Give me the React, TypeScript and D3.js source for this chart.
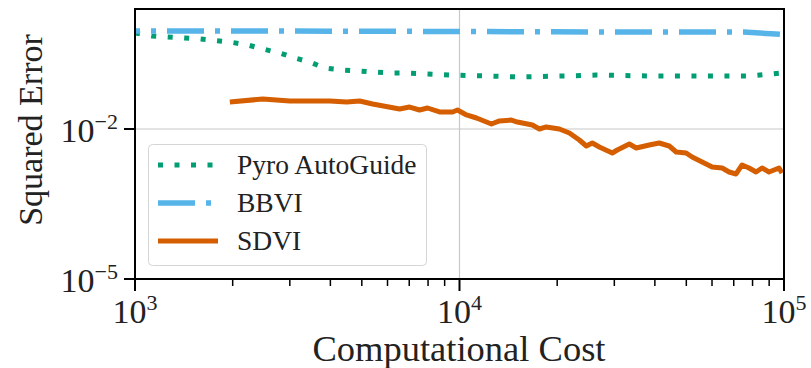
import React from 'react';
import * as d3 from 'd3';

const pyroX = [1000, 1128, 1425, 1585, 1958, 2228, 2477, 2793, 3105, 3455, 3843, 4335, 4822, 5397, 6092, 6871, 9510, 12100, 15070, 21330, 26400, 38400, 54700, 78000, 98600];
const pyroY = [0.832, 0.724, 0.661, 0.631, 0.55, 0.479, 0.398, 0.331, 0.263, 0.219, 0.166, 0.151, 0.145, 0.138, 0.132, 0.132, 0.12, 0.115, 0.11, 0.115, 0.12, 0.115, 0.115, 0.115, 0.132];

const bbviX = [1000, 3000, 10000, 30000, 60000, 75000, 100000];
const bbviY = [0.912, 0.912, 0.891, 0.871, 0.871, 0.871, 0.776];

const sdviX = [1960, 2476, 2999, 3981, 4491, 4924, 5399, 6537, 7018, 7532, 7971, 8679, 9517, 9859, 10508, 11280, 12545, 13280, 14454, 15083, 16771, 17629, 18523, 20310, 21806, 23400, 24594, 25660, 26970, 29570, 30640, 33360, 35050, 38420, 41250, 44290, 46540, 49950, 52110, 55940, 60050, 64470, 67750, 71180, 74270, 78040, 82000, 85560, 89930, 96520, 98580];
const sdviY = [0.0347, 0.0398, 0.0363, 0.0363, 0.0347, 0.0363, 0.0316, 0.0251, 0.0275, 0.024, 0.0263, 0.0219, 0.0219, 0.024, 0.0191, 0.0166, 0.0126, 0.0145, 0.0151, 0.0138, 0.012, 0.01, 0.011, 0.01, 0.00832, 0.00603, 0.00457, 0.00525, 0.00437, 0.00331, 0.0038, 0.00501, 0.00417, 0.00479, 0.00525, 0.00457, 0.00347, 0.00331, 0.00275, 0.00219, 0.00174, 0.00166, 0.00138, 0.00126, 0.00191, 0.00166, 0.00138, 0.00166, 0.00138, 0.00166, 0.00132];

const xMajor = [3, 4, 5];
const yMajor = [-2, -5];
const seriesNames = ['Pyro AutoGuide', 'BBVI', 'SDVI'];
const colors = ['#029E73', '#56B4E9', '#D55E00'];

const FONT = '"Liberation Serif", "Times New Roman", serif';

export default function App() {
  const L = 135, R = 784, T = 9, B = 279;
  const x = d3.scaleLog().domain([1e3, 1e5]).range([L, R]);
  const y = d3.scaleLog().domain([1e-5, Math.pow(10, 0.4)]).range([B, T]);
  const line = d3.line<[number, number]>().x(d => x(d[0])).y(d => y(d[1]));
  const zip = (a: number[], b: number[]) => a.map((v, i) => [v, b[i]] as [number, number]);

  const minor: number[] = [];
  for (const dec of [1e3, 1e4]) for (let k = 2; k <= 9; k++) minor.push(k * dec);

  const dashes = ['5 11.5', '37 11 5 11', undefined];
  const widths = [5, 5.5, 5];

  return (
    <svg width={811} height={368} style={{ position: 'absolute', left: 0, top: 0, background: '#fff' }} fontFamily={FONT}>
      <rect x={0} y={0} width={811} height={368} fill="#fff" />
      {yMajor.map(e => (
        <line key={'gy' + e} x1={L} x2={R} y1={y(Math.pow(10, e))} y2={y(Math.pow(10, e))} stroke="#c8c8c8" strokeWidth={1.2} />
      ))}
      {xMajor.map(e => (
        <line key={'gx' + e} x1={x(Math.pow(10, e))} x2={x(Math.pow(10, e))} y1={T} y2={B} stroke="#c8c8c8" strokeWidth={1.2} />
      ))}
      <defs>
        <clipPath id="clip"><rect x={L} y={T} width={R - L} height={B - T} /></clipPath>
      </defs>
      <g clipPath="url(#clip)">
        <path d={line(zip(pyroX, pyroY)) || ''} fill="none" stroke={colors[0]} strokeWidth={widths[0]} strokeDasharray={dashes[0]} />
        <path d={line(zip(bbviX, bbviY)) || ''} fill="none" stroke={colors[1]} strokeWidth={widths[1]} strokeDasharray={dashes[1]} strokeDashoffset={32} />
        <path d={line(zip(sdviX, sdviY)) || ''} fill="none" stroke={colors[2]} strokeWidth={widths[2]} strokeLinejoin="round" />
      </g>
      <rect x={148.5} y={144.5} width={278} height={121} rx={4} fill="#fff" fillOpacity={0.85} stroke="#d5d5d5" strokeWidth={1} />
      {seriesNames.map((n, i) => {
        const cy = [165, 203, 241][i];
        return (
          <g key={n}>
            <line x1={158} x2={218} y1={cy} y2={cy} stroke={colors[i]} strokeWidth={widths[i]} strokeDasharray={dashes[i]} />
            <text x={237} y={cy + 8.5} fontSize={27.5} fill="#222">{n}</text>
          </g>
        );
      })}
      <rect x={L} y={T} width={R - L} height={B - T} fill="none" stroke="#000" strokeWidth={2} />
      {minor.map(v => (
        <line key={'mx' + v} x1={x(v)} x2={x(v)} y1={B} y2={B + 7} stroke="#000" strokeWidth={1.5} />
      ))}
      {xMajor.map(e => (
        <g key={'tx' + e}>
          <line x1={x(Math.pow(10, e))} x2={x(Math.pow(10, e))} y1={B} y2={B + 12} stroke="#000" strokeWidth={2} />
          <text x={x(Math.pow(10, e))} y={323} textAnchor="middle" fontSize={34} fill="#222">
            10<tspan fontSize={22} dy={-13}>{e}</tspan>
          </text>
        </g>
      ))}
      {yMajor.map(e => (
        <g key={'ty' + e}>
          <line x1={L - 11} x2={L} y1={y(Math.pow(10, e))} y2={y(Math.pow(10, e))} stroke="#000" strokeWidth={2} />
          <text x={118} y={y(Math.pow(10, e)) + 13} textAnchor="end" fontSize={34} fill="#222">
            10<tspan fontSize={22} dy={-13}>{'\u2212' + Math.abs(e)}</tspan>
          </text>
        </g>
      ))}
      <text x={459} y={361} textAnchor="middle" fontSize={36.5} fill="#222">Computational Cost</text>
      <text transform={`translate(42, 130) rotate(-90)`} textAnchor="middle" fontSize={34} fill="#222">Squared Error</text>
    </svg>
  );
}
